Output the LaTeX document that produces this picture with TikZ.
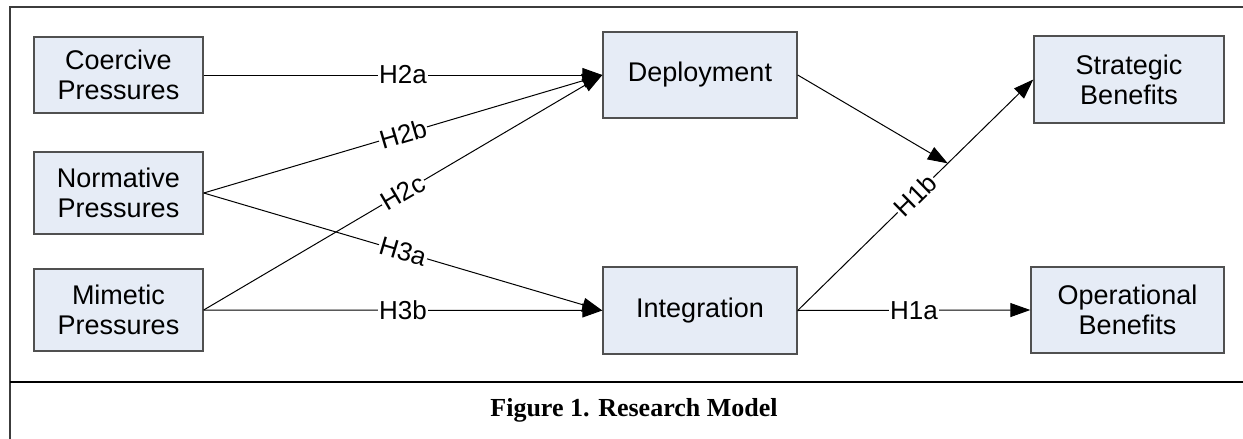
\documentclass[tikz,border=0pt]{standalone}
\usepackage{fontspec}
\setmainfont{Liberation Sans}
\newfontfamily\capfont{Liberation Serif}
\usetikzlibrary{arrows.meta,calc}
\definecolor{boxfill}{RGB}{230,236,246}
\definecolor{boxline}{RGB}{80,80,80}
\definecolor{frameline}{RGB}{60,60,60}
\tikzset{
  fbox/.style={draw=boxline, line width=1.4pt, fill=boxfill, rectangle, align=center, inner sep=0pt,
    font=\fontsize{27}{30}\selectfont},
  conn/.style={line width=1pt, -{Triangle[length=20pt,width=14pt]}},
  lab/.style={fill=white, inner sep=1pt, font=\fontsize{26}{30}\selectfont},
}
\begin{document}
\begin{tikzpicture}[x=1pt,y=-1pt]
\useasboundingbox (0,0) rectangle (1243,439);
% frame
\draw[frameline, line width=1.5pt] (10,439) -- (10,7) -- (1243,7);
\draw[black, line width=2pt] (10,382) -- (1243,382);
% boxes
\node[fbox, minimum width=169pt, minimum height=76pt] (coe) at (118.5,75) {Coercive\\Pressures};
\node[fbox, minimum width=169pt, minimum height=82pt] (nor) at (118.5,193) {Normative\\Pressures};
\node[fbox, minimum width=169pt, minimum height=82pt] (mim) at (118.5,310) {Mimetic\\Pressures};
\node[fbox, minimum width=194pt, minimum height=86pt] (dep) at (700,75) {Deployment};
\node[fbox, minimum width=194pt, minimum height=87pt] (int) at (700,310.5) {Integration};
\node[fbox, minimum width=190pt, minimum height=87pt] (str) at (1129,79.5) {Strategic\\Benefits};
\node[fbox, minimum width=193pt, minimum height=86pt] (ope) at (1127.5,310) {Operational\\Benefits};
% connectors
\draw[conn] (coe.east) -- node[lab] {H2a} (dep.west);
\draw[conn] (nor.east) -- node[lab, sloped] {H2b} (dep.west);
\draw[conn] (mim.east) -- node[lab, sloped] {H2c} (dep.west);
\draw[conn] (nor.east) -- node[lab, sloped] {H3a} (int.west);
\draw[conn] (mim.east) -- node[lab] {H3b} (int.west);
\draw[conn] (int.east) -- node[lab] {H1a} (ope.west);
\draw[conn] (int.east) -- node[lab, sloped] {H1b} (str.west);
\coordinate (j) at ($(int.east)!0.637!(str.west)$);
\draw[conn] (dep.east) -- (j);
% caption
\node (cap) at (634,410) {\capfont\bfseries\fontsize{26}{30}\selectfont Figure 1. Research Model};
\end{tikzpicture}
\end{document}
